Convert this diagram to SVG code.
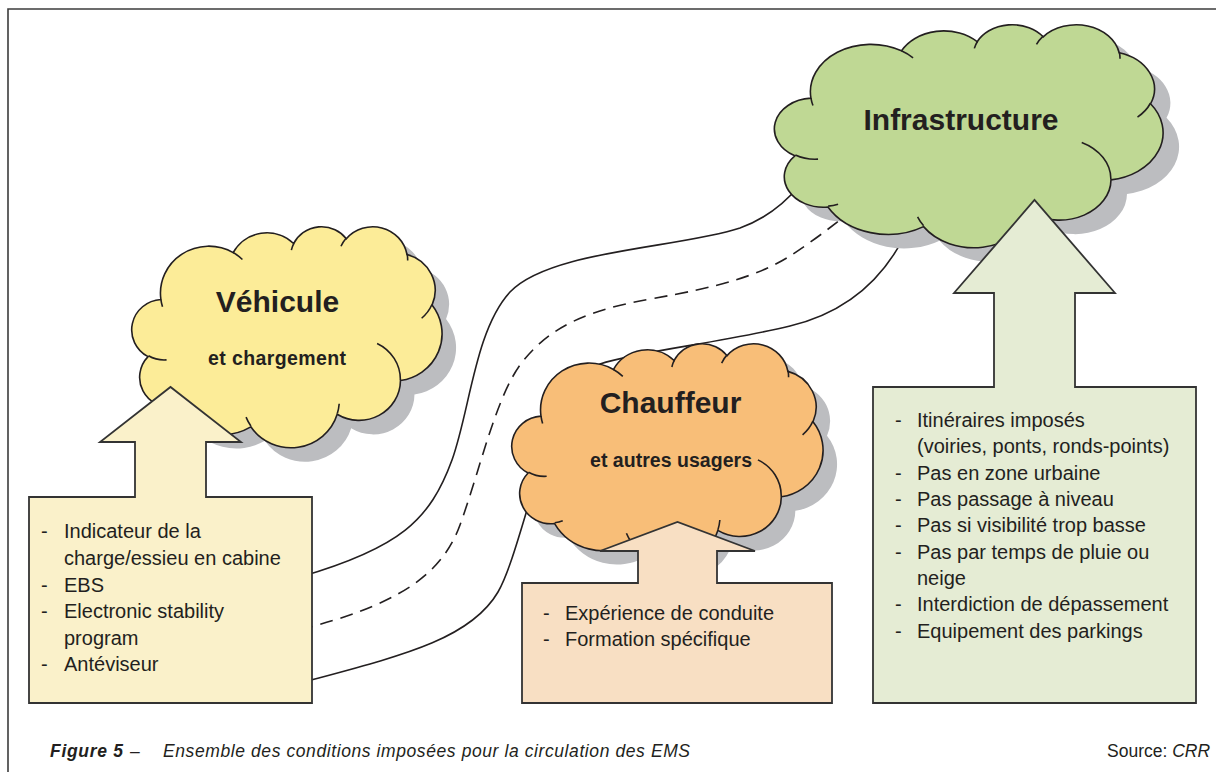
<svg xmlns="http://www.w3.org/2000/svg" xmlns:xlink="http://www.w3.org/1999/xlink" width="1216" height="772" viewBox="0 0 1216 772">
<style>
.frame{fill:none;stroke:#3c3c3c;stroke-width:1.6}
.road{fill:none;stroke:#231f20;stroke-width:1.6}
.dash{stroke-dasharray:13 8}
.nss{vector-effect:non-scaling-stroke}
.shadow{fill:#bcbdc0;stroke:none}
.cl{stroke:#231f20;stroke-width:1.6}
.inner{fill:none;stroke:#231f20;stroke-width:1.6}
.box{stroke:#333;stroke-width:1.8}
.title{font-family:"Liberation Sans",Arial,sans-serif;font-weight:bold;font-size:30px;fill:#231f20;text-anchor:middle}
.sub{font-family:"Liberation Sans",Arial,sans-serif;font-weight:bold;font-size:19.5px;fill:#231f20;text-anchor:middle}
.body{font-family:"Liberation Sans",Arial,sans-serif;font-size:20px;fill:#231f20}
.cap{font-family:"Liberation Sans",Arial,sans-serif;font-size:17.5px;fill:#231f20}
</style>
<defs>
<path id="cloudShape" class="nss" d="M9.03,33.26 A15.63,21.27 0 0 1 32.42,12.04 A12.34,16.82 0 0 1 51.98,7.94 A10.10,13.76 0 0 1 69.05,5.74 A11.24,15.27 0 0 1 88.68,12.90 A12.34,16.84 0 0 1 96.78,35.78 A15.68,21.34 0 0 1 86.56,69.90 A13.39,18.21 0 0 1 66.08,85.19 A15.63,21.33 0 0 1 38.13,90.87 A17.87,24.41 0 0 1 13.42,82.08 A10.09,13.70 0 0 1 4.87,59.11 A10.06,13.76 0 0 1 9.03,33.26 Z"/>
<path id="cloudInner" class="nss" d="M10.86,60.59 A10.06,13.76 0 0 1 5.00,58.74 M16.04,80.78 A10.09,13.70 0 0 1 13.48,81.68 M38.14,90.49 A15.63,21.33 0 0 1 36.59,86.46 M66.73,80.44 A15.63,21.33 0 0 1 66.12,84.86 M79.00,53.13 A13.39,18.21 0 0 1 86.53,69.65 M96.75,35.54 A12.34,16.84 0 0 1 93.41,41.74 M88.71,12.56 A11.24,15.27 0 0 1 88.89,15.57 M67.31,9.15 A11.24,15.27 0 0 1 69.03,5.41 M51.25,10.93 A10.10,13.76 0 0 1 52.09,7.72 M32.41,12.02 A15.63,21.27 0 0 1 35.42,15.14 M9.55,36.55 A15.63,21.27 0 0 1 9.03,33.27"/>
</defs>
<rect x="0" y="0" width="1216" height="772" fill="#ffffff"/>
<path class="frame" d="M8,772 V9 H1216"/>

<g id="connectors">
<path class="road" d="M300,577 C400,548 430,520 452,460 C470,410 475,330 510,292 C550,250 680,248 740,228 C765,219 785,203 800,185"/>
<path class="road dash" d="M300,630 C390,606 440,580 460,525 C480,470 495,400 520,365 C550,325 590,310 650,299 C720,287 760,275 790,256 C810,243 830,228 850,212"/>
<path class="road" d="M300,683 C400,656 470,640 498,592 C525,545 550,380 600,364 C640,351 720,343 790,326 C840,314 880,285 905,235"/>
</g>

<g id="vehicule">
<use xlink:href="#cloudShape" class="shadow" transform="translate(147,240) scale(3.09,2.21)"/>
<use xlink:href="#cloudShape" class="cl" fill="#fcec98" transform="translate(133,226) scale(3.09,2.21)"/>
<use xlink:href="#cloudInner" class="inner" transform="translate(133,226) scale(3.09,2.21)"/>
<text class="title" x="277.5" y="312">Véhicule</text>
<text class="sub" x="277" y="365" textLength="138" lengthAdjust="spacing">et chargement</text>
<path class="box" fill="#faf1ca" d="M29,497 H135 V442 H100 L170.5,387 L241,442 H206 V497 H312 V703 H29 Z"/>
<g class="body">
<text x="41" y="538">-</text><text x="64" y="538">Indicateur de la</text>
<text x="64" y="565">charge/essieu en cabine</text>
<text x="41" y="591.5">-</text><text x="64" y="591.5">EBS</text>
<text x="41" y="618">-</text><text x="64" y="618">Electronic stability</text>
<text x="64" y="644.5">program</text>
<text x="41" y="671">-</text><text x="64" y="671">Antéviseur</text>
</g>
</g>

<g id="chauffeur">
<use xlink:href="#cloudShape" class="shadow" transform="translate(527,357) scale(3.10,2.20)"/>
<use xlink:href="#cloudShape" class="cl" fill="#f8be78" transform="translate(513,343) scale(3.10,2.20)"/>
<use xlink:href="#cloudInner" class="inner" transform="translate(513,343) scale(3.10,2.20)"/>
<text class="title" x="670.5" y="413">Chauffeur</text>
<text class="sub" x="671" y="467" textLength="162" lengthAdjust="spacing">et autres usagers</text>
<path class="box" fill="#f8dfc3" d="M522,583 H638 V551 H600 L677.5,522 L755,551 H717 V583 H832 V703 H522 Z"/>
<g class="body">
<text x="543" y="620">-</text><text x="565" y="620">Expérience de conduite</text>
<text x="543" y="646">-</text><text x="565" y="646">Formation spécifique</text>
</g>
</g>

<g id="infrastructure">
<use xlink:href="#cloudShape" class="shadow" transform="translate(792,38) scale(3.87,2.23)"/>
<use xlink:href="#cloudShape" class="cl" fill="#bfd894" transform="translate(776,24) scale(3.87,2.23)"/>
<use xlink:href="#cloudInner" class="inner" transform="translate(776,24) scale(3.87,2.23)"/>
<text class="title" x="961" y="130">Infrastructure</text>
<path class="box" fill="#e5ecd4" d="M873,387 H994 V293 H954 L1034.5,200 L1115,293 H1075 V387 H1196 V703 H873 Z"/>
<g class="body">
<text x="895" y="427">-</text><text x="917" y="427">Itinéraires imposés</text>
<text x="917" y="453">(voiries, ponts, ronds-points)</text>
<text x="895" y="479.5">-</text><text x="917" y="479.5">Pas en zone urbaine</text>
<text x="895" y="506">-</text><text x="917" y="506">Pas passage à niveau</text>
<text x="895" y="532">-</text><text x="917" y="532">Pas si visibilité trop basse</text>
<text x="895" y="558.5">-</text><text x="917" y="558.5">Pas par temps de pluie ou</text>
<text x="917" y="585">neige</text>
<text x="895" y="611">-</text><text x="917" y="611">Interdiction de dépassement</text>
<text x="895" y="637.5">-</text><text x="917" y="637.5">Equipement des parkings</text>
</g>
</g>

<g id="caption" class="cap">
<text x="50" y="757" font-weight="bold" font-style="italic" textLength="73" lengthAdjust="spacing">Figure 5</text>
<text x="130" y="757">–</text>
<text x="163" y="757" font-style="italic" textLength="527" lengthAdjust="spacing">Ensemble des conditions imposées pour la circulation des EMS</text>
<text x="1107" y="757">Source: <tspan font-style="italic">CRR</tspan></text>
</g>
</svg>
